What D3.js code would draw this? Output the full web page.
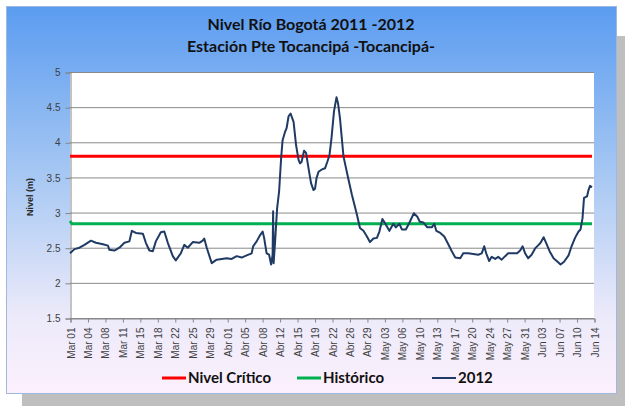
<!DOCTYPE html>
<html>
<head>
<meta charset="utf-8">
<script src="https://cdn.jsdelivr.net/npm/d3@7"></script>
<style>
  body { margin: 0; background: #ffffff; }
  svg { display: block; }
</style>
</head>
<body>
<div class="chart"></div>
<script>
// dias desde 01 Mar 2012 (fraccion de dia) y nivel del rio (m)
var dias = [0, 0.9, 1.9, 2.9, 4.2, 5.2, 6.6, 7.6, 7.9, 8.9, 9.9, 10.9, 11.9, 12.4, 13.2, 14.6,
    15.2, 15.9, 16.6, 17.2, 18.2, 18.9, 19.6, 20.6, 21.2, 22.2, 22.9, 23.6, 24.6, 25.9, 26.6, 26.9,
    27.4, 28.4, 29.4, 30.4, 31.4, 32.4, 33.4, 34.4, 35.4, 36.4, 36.7, 37.4, 38.1, 38.6, 38.9, 39.4,
    39.9, 40.3, 40.6, 40.7, 40.8, 41.1, 41.5, 41.9, 42.3, 42.6, 43.1, 43.4, 43.8, 44.2, 44.8, 45.3,
    45.8, 46.1, 46.4, 46.9, 47.3, 47.8, 48.3, 48.8, 49.1, 49.4, 49.8, 50.4, 51.1, 51.6, 52.0, 52.4,
    52.9, 53.4, 53.7, 54.1, 54.8, 55.8, 56.5, 57.5, 58.1, 58.8, 59.5, 60.1, 60.8, 61.5, 62.0, 62.6,
    63.1, 64.0, 64.8, 65.3, 66.0, 66.5, 67.3, 68.1, 68.9, 69.6, 70.1, 70.8, 71.6, 72.5, 73.0, 73.4,
    74.2, 75.0, 75.8, 76.5, 77.2, 78.2, 78.8, 79.8, 80.8, 81.8, 82.5, 83.0, 83.4, 84.0, 84.5, 85.2,
    85.8, 86.5, 87.2, 87.8, 88.8, 89.6, 90.2, 90.7, 91.2, 91.8, 92.5, 93.2, 93.9, 94.3, 94.9, 95.4,
    96.1, 96.9, 97.7, 98.3, 99.0, 99.9, 100.5, 101.2, 101.9, 102.3, 102.7, 103.0, 103.6, 103.9, 104.2, 104.6];
var nivel2012 = [2.42, 2.48, 2.50, 2.54, 2.60, 2.57, 2.55, 2.53, 2.47, 2.46, 2.50, 2.57, 2.59, 2.74, 2.71, 2.70,
    2.57, 2.46, 2.45, 2.59, 2.72, 2.73, 2.57, 2.38, 2.32, 2.42, 2.54, 2.50, 2.58, 2.57, 2.60, 2.63,
    2.50, 2.28, 2.33, 2.34, 2.35, 2.34, 2.38, 2.36, 2.39, 2.42, 2.52, 2.59, 2.68, 2.73, 2.64, 2.42,
    2.40, 2.26, 2.40, 3.02, 2.28, 2.59, 3.06, 3.30, 3.77, 4.03, 4.15, 4.20, 4.37, 4.41, 4.29, 3.96,
    3.75, 3.70, 3.72, 3.88, 3.85, 3.63, 3.42, 3.32, 3.34, 3.49, 3.58, 3.61, 3.63, 3.73, 3.82, 4.06,
    4.44, 4.64, 4.56, 4.34, 3.80, 3.47, 3.25, 2.97, 2.78, 2.74, 2.66, 2.58, 2.63, 2.64, 2.73, 2.91,
    2.85, 2.74, 2.84, 2.79, 2.84, 2.76, 2.76, 2.87, 2.99, 2.94, 2.87, 2.86, 2.79, 2.79, 2.84, 2.74,
    2.71, 2.66, 2.55, 2.45, 2.36, 2.35, 2.42, 2.42, 2.41, 2.40, 2.42, 2.52, 2.42, 2.31, 2.37, 2.34,
    2.37, 2.33, 2.38, 2.42, 2.42, 2.42, 2.46, 2.52, 2.42, 2.35, 2.40, 2.49, 2.54, 2.57, 2.65, 2.57,
    2.45, 2.35, 2.30, 2.26, 2.30, 2.39, 2.52, 2.64, 2.73, 2.76, 2.92, 3.21, 3.23, 3.32, 3.38, 3.36];

var diasCritico = [0, 104.6];
var nivelCritico = [3.8, 3.8];
var diasHistorico = [0, 0.4, 104.6];
var nivelHistorico = [2.88, 2.84, 2.84];

var tickLabels = ["Mar 01", "Mar 04", "Mar 08", "Mar 11", "Mar 15", "Mar 18", "Mar 22", "Mar 25", "Mar 29",
    "Abr 01", "Abr 05", "Abr 08", "Abr 12", "Abr 15", "Abr 19", "Abr 22", "Abr 26", "Abr 29",
    "May 03", "May 06", "May 10", "May 13", "May 17", "May 20", "May 24", "May 27", "May 31",
    "Jun 03", "Jun 07", "Jun 10", "Jun 14"];
var yTicks = [1.5, 2, 2.5, 3, 3.5, 4, 4.5, 5];

var W = 625, H = 406;
var plot = { left: 70, right: 594, top: 72, bottom: 318 };

var svg = d3.select(".chart").append("svg")
    .attr("width", W)
    .attr("height", H);

var defs = svg.append("defs");
var grad = defs.append("linearGradient")
    .attr("id", "bg")
    .attr("x1", 0).attr("y1", 0).attr("x2", 0).attr("y2", 1);
grad.append("stop").attr("offset", "0%").attr("stop-color", "#5b9cf0");
grad.append("stop").attr("offset", "45%").attr("stop-color", "#a9c9f3");
grad.append("stop").attr("offset", "80%").attr("stop-color", "#eceafa");
grad.append("stop").attr("offset", "100%").attr("stop-color", "#fcf0fc");

// sombra y marco
svg.append("rect")
    .attr("x", 22).attr("y", 36)
    .attr("width", 605).attr("height", 370)
    .attr("fill", "#bfbfbf");
svg.append("rect")
    .attr("x", 6.5).attr("y", 6.5)
    .attr("width", 610).attr("height", 387)
    .attr("fill", "url(#bg)")
    .attr("stroke", "#9db9df");

// titulo
svg.append("text")
    .attr("x", 311).attr("y", 30)
    .attr("text-anchor", "middle")
    .style("font-family", "Lato, 'Open Sans', sans-serif")
    .style("font-size", "16px")
    .style("font-weight", "bold")
    .style("fill", "#111111")
    .text("Nivel Río Bogotá 2011 -2012");
svg.append("text")
    .attr("x", 311).attr("y", 52)
    .attr("text-anchor", "middle")
    .style("font-family", "Lato, 'Open Sans', sans-serif")
    .style("font-size", "16px")
    .style("font-weight", "bold")
    .style("fill", "#111111")
    .text("Estación Pte Tocancipá -Tocancipá-");

var x = d3.scaleLinear().domain([0, 105]).range([plot.left, plot.right]);
var y = d3.scaleLinear().domain([1.5, 5]).range([plot.bottom, plot.top]);

// area del grafico
svg.append("rect")
    .attr("x", plot.left).attr("y", plot.top)
    .attr("width", plot.right - plot.left).attr("height", plot.bottom - plot.top)
    .attr("fill", "#ffffff");

// lineas de division
svg.append("g")
    .selectAll("line")
    .data(yTicks)
    .enter()
    .append("line")
    .attr("x1", plot.left).attr("x2", plot.right)
    .attr("y1", function (d) { return y(d) + 0.5; })
    .attr("y2", function (d) { return y(d) + 0.5; })
    .attr("stroke", "#8a8a8a")
    .attr("stroke-width", 1);

// ejes
var yAxis = svg.append("g")
    .attr("transform", "translate(" + (plot.left + 0.5) + ",0.5)")
    .call(d3.axisLeft(y).tickValues(yTicks).tickSize(5).tickPadding(5).tickFormat(d3.format("")));
var xAxis = svg.append("g")
    .attr("transform", "translate(0.5," + (plot.bottom + 0.5) + ")")
    .call(d3.axisBottom(x)
        .tickValues(d3.range(tickLabels.length).map(function (i) { return i * 3.5; }))
        .tickSize(4)
        .tickFormat(function (d, i) { return tickLabels[i]; }));

[yAxis, xAxis].forEach(function (ax) {
    ax.select(".domain").attr("stroke", "#868686");
    ax.selectAll(".tick line").attr("stroke", "#868686");
    ax.selectAll("text")
        .style("font-family", "'Liberation Sans', Arial, sans-serif")
        .style("fill", "#404040");
});
yAxis.selectAll("text").style("font-size", "10px");
xAxis.selectAll("text")
    .style("font-size", "10px")
    .attr("transform", "rotate(-90)")
    .attr("text-anchor", "end")
    .attr("x", -9)
    .attr("y", 0)
    .attr("dy", "0.35em");

svg.append("text")
    .attr("transform", "translate(33,197) rotate(-90)")
    .attr("text-anchor", "middle")
    .style("font-family", "'Liberation Sans', Arial, sans-serif")
    .style("font-size", "9px")
    .style("font-weight", "bold")
    .style("fill", "#262626")
    .text("Nivel (m)");

// series
var line = d3.line()
    .x(function (d) { return x(d[0]); })
    .y(function (d) { return y(d[1]); });

var series = [
    { name: "Nivel Crítico", color: "#ff0000", width: 3, pts: d3.zip(diasCritico, nivelCritico) },
    { name: "Histórico", color: "#00b050", width: 3, pts: d3.zip(diasHistorico, nivelHistorico) },
    { name: "2012", color: "#1f3a64", width: 2, pts: d3.zip(dias, nivel2012) }
];

svg.append("g")
    .selectAll("path")
    .data(series)
    .enter()
    .append("path")
    .attr("d", function (d) { return line(d.pts); })
    .attr("fill", "none")
    .attr("stroke", function (d) { return d.color; })
    .attr("stroke-width", function (d) { return d.width; })
    .attr("stroke-linejoin", "round");

// leyenda
var legendX = [162, 297, 432];
var legend = svg.append("g")
    .selectAll("g")
    .data(series)
    .enter()
    .append("g")
    .attr("transform", function (d, i) { return "translate(" + legendX[i] + ",378)"; });
legend.append("line")
    .attr("x1", 0).attr("x2", 24)
    .attr("stroke", function (d) { return d.color; })
    .attr("stroke-width", function (d) { return d.width; });
legend.append("text")
    .attr("x", 26)
    .attr("dy", "0.35em")
    .style("font-family", "Lato, 'Open Sans', sans-serif")
    .style("font-size", "15px")
    .style("font-weight", "bold")
    .style("fill", "#111111")
    .text(function (d) { return d.name; });
</script>
</body>
</html>
